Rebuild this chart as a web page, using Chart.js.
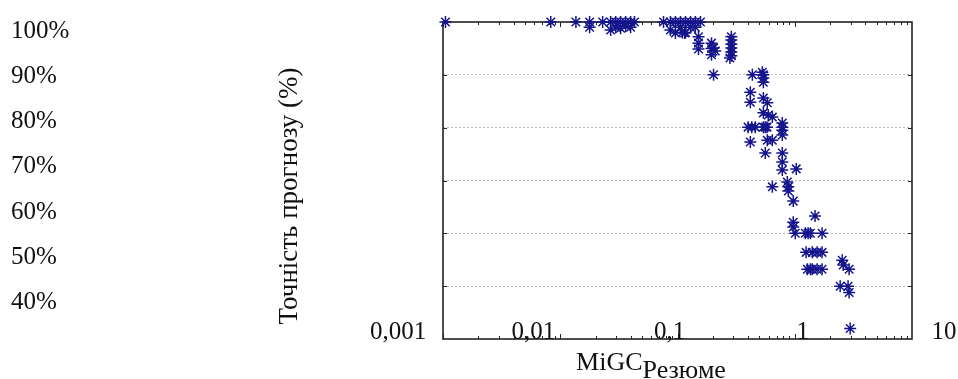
<!DOCTYPE html>
<html>
<head>
<meta charset="utf-8">
<script src="https://cdn.jsdelivr.net/npm/chart.js@4"></script>
<style>
html,body{margin:0;padding:0;background:#fff;}
#wrap{width:958px;height:379px;position:relative;}
</style>
</head>
<body>
<div id="wrap"><canvas id="c" width="958" height="379"></canvas></div>
<script>
// ---- data ----
const xValues = [
  0.00105, 0.0083, 0.0136, 0.0178, 0.023, 0.0269, 0.0297, 0.0327, 0.0361, 0.0398, 0.043,
  0.076, 0.087, 0.096, 0.106, 0.117, 0.129, 0.142, 0.157,
  0.0178, 0.0269, 0.0297, 0.0327, 0.0361, 0.0398, 0.087, 0.096, 0.106, 0.117, 0.129, 0.142,
  0.11, 0.115, 0.151, 0.151, 0.151,
  0.195, 0.195, 0.195, 0.203, 0.21,
  0.288, 0.288, 0.288, 0.288, 0.288, 0.288, 0.28,
  0.203, 0.435, 0.529, 0.54, 0.54, 0.54,
  0.418, 0.418, 0.54, 0.583, 0.54, 0.595, 0.644,
  0.40, 0.43, 0.46, 0.54, 0.56, 0.58, 0.783, 0.783, 0.783,
  0.418, 0.583, 0.644, 0.783, 0.561, 0.783, 0.783, 0.783, 1.03,
  0.864, 0.881, 0.881, 0.644, 0.971, 1.49, 0.971, 0.971,
  1.01, 1.23, 1.30, 1.36, 1.71,
  1.25, 1.41, 1.55, 1.71,
  1.28, 1.36, 1.41, 1.55, 1.71,
  2.54, 2.59, 2.91, 2.44, 2.85, 2.91, 2.97
];
const yValues = [
  100, 100, 100, 100, 100, 100, 100, 100, 100, 100, 100,
  100, 100, 100, 100, 100, 100, 100, 100,
  99.0, 98.5, 99.0, 98.8, 99.2, 99.0, 98.5, 97.9, 99.0, 98.0, 99.0, 99.0,
  98.0, 97.9, 97.2, 96.0, 94.9,
  96.0, 95.0, 93.8, 95.1, 94.5,
  97.2, 96.6, 95.8, 95.1, 94.3, 93.6, 93.2,
  90.0, 90.0, 90.5, 90.0, 89.4, 88.6,
  86.7, 84.8, 85.6, 84.7, 82.8, 82.4, 82.0,
  80.1, 80.1, 80.1, 80.1, 80.1, 80.1, 80.9, 80.1, 79.5,
  77.3, 77.6, 77.6, 78.6, 75.2, 75.2, 73.5, 72.0, 72.2,
  69.7, 68.8, 68.0, 68.8, 66.1, 63.3, 62.1, 61.2,
  60.0, 60.0, 60.0, 60.0, 60.0,
  56.4, 56.4, 56.4, 56.4,
  53.2, 53.2, 53.2, 53.2, 53.2,
  54.9, 54.0, 53.2, 50.0, 50.0, 48.8, 42.0
];
const yTickLabels = ["100%", "90%", "80%", "70%", "60%", "50%", "40%"];
const xTickValues = [0.001, 0.01, 0.1, 1, 10];
const xTickLabels = ["0,001", "0,01", "0,1", "1", "10"];
const yGridValues = [50, 60, 70, 80, 90];
const yTitle = "Точність прогнозу (%)";
const xTitleMain = "MiGC";
const xTitleSub = "Резюме";

const points = xValues.map((x, i) => ({x: x, y: yValues[i]}));
const FONT = '"Liberation Serif", "Times New Roman", serif';
const NAVY = '#14148c';

const decor = {
  id: 'decor',
  beforeDatasetsDraw(chart) {
    const ctx = chart.ctx, a = chart.chartArea;
    const xs = chart.scales.x, ys = chart.scales.y;
    ctx.save();
    ctx.strokeStyle = '#222';
    ctx.lineWidth = 1.6;
    ctx.strokeRect(a.left, a.top, a.right - a.left, a.bottom - a.top);
    ctx.lineWidth = 1;
    ctx.beginPath();
    for (let d = -3; d < 1; d++) {
      for (let m = 1; m <= 9; m++) {
        const v = m * Math.pow(10, d);
        const px = Math.round(xs.getPixelForValue(v)) + 0.5;
        const len = m === 1 ? 5 : 3;
        ctx.moveTo(px, a.bottom); ctx.lineTo(px, a.bottom - len);
        ctx.moveTo(px, a.top); ctx.lineTo(px, a.top + len);
      }
    }
    yGridValues.forEach(v => {
      const py = Math.round(ys.getPixelForValue(v)) + 0.5;
      ctx.moveTo(a.left, py); ctx.lineTo(a.left + 4, py);
      ctx.moveTo(a.right, py); ctx.lineTo(a.right - 4, py);
    });
    ctx.stroke();
    ctx.restore();
  },
  afterDraw(chart) {
    const ctx = chart.ctx, a = chart.chartArea;
    const xs = chart.scales.x;
    ctx.save();
    ctx.fillStyle = '#111';
    ctx.font = '25px ' + FONT;
    ctx.textAlign = 'left';
    ctx.textBaseline = 'middle';
    yTickLabels.forEach((t, i) => {
      ctx.fillText(t, 11, 31 + i * 45.3);
    });
    ctx.textBaseline = 'alphabetic';
    const offs = [-45, -27, -8, 8, 32];
    xTickLabels.forEach((t, i) => {
      const px = xs.getPixelForValue(xTickValues[i]) + offs[i];
      ctx.textAlign = 'center';
      ctx.fillText(t, px, a.bottom);
    });
    // y title
    ctx.save();
    ctx.font = '27px ' + FONT;
    ctx.translate(290, 196);
    ctx.rotate(-Math.PI / 2);
    ctx.textAlign = 'center';
    ctx.textBaseline = 'middle';
    ctx.fillText(yTitle, 0, 0);
    ctx.restore();
    // x title with subscript
    ctx.textAlign = 'left';
    ctx.font = '26px ' + FONT;
    const wMain = ctx.measureText(xTitleMain).width;
    ctx.font = '26px ' + FONT;
    const wSub = ctx.measureText(xTitleSub).width;
    const cx = 651;
    const x0 = cx - (wMain + wSub) / 2;
    ctx.fillText(xTitleMain, x0, 370);
    ctx.fillText(xTitleSub, x0 + wMain, 378);
    ctx.restore();
  }
};

new Chart(document.getElementById('c'), {
  type: 'scatter',
  data: {
    datasets: [{
      data: points,
      pointStyle: 'star',
      radius: 6,
      borderWidth: 1.5,
      borderColor: NAVY,
      backgroundColor: NAVY,
      clip: false
    }]
  },
  options: {
    responsive: false,
    animation: false,
    devicePixelRatio: 1,
    layout: {padding: {left: 443, right: 46, top: 22, bottom: 40}},
    plugins: {legend: {display: false}, tooltip: {enabled: false}},
    scales: {
      x: {
        type: 'logarithmic', min: 0.001, max: 10,
        ticks: {display: false},
        grid: {display: false, drawTicks: false},
        border: {display: false}
      },
      y: {
        type: 'linear', min: 40, max: 100,
        ticks: {display: false, stepSize: 10},
        grid: {
          drawTicks: false,
          color: ctx => (ctx.tick && (ctx.tick.value === 40 || ctx.tick.value === 100)) ? 'rgba(0,0,0,0)' : '#b8b8b8',
          lineWidth: 1
        },
        border: {display: false, dash: [2, 2]}
      }
    }
  },
  plugins: [decor]
});
</script>
</body>
</html>
